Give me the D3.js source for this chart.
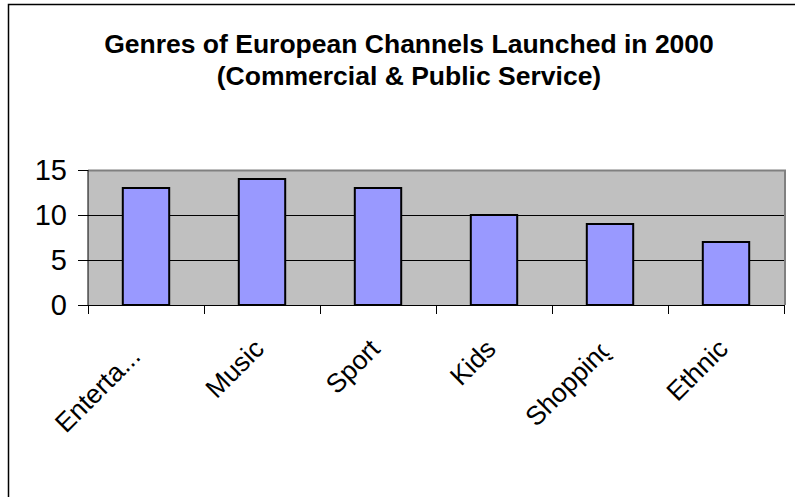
<!DOCTYPE html>
<html>
<head>
<meta charset="utf-8">
<script src="https://cdn.jsdelivr.net/npm/d3@7"></script>
<style>
  html, body { margin: 0; padding: 0; background: #fff; }
  svg { display: block; font-family: Arial, "Liberation Sans", sans-serif; }
</style>
</head>
<body>
<svg id="chart" width="795" height="497"></svg>
<script>
// Channel genres launched in 2000
const categories = ["Enterta...", "Music", "Sport", "Kids", "Shopping", "Ethnic"];
const launches = [13, 14, 13, 10, 9, 7];
const yTicks = [0, 5, 10, 15];
const titleLines = ["Genres of European Channels Launched in 2000", "(Commercial & Public Service)"];

const svg = d3.select("#chart");
const plot = { left: 88, right: 784, top: 170, bottom: 305 };

// outer frame
svg.append("rect")
  .attr("x", 8.5).attr("y", 4.5)
  .attr("width", 820).attr("height", 600)
  .attr("fill", "#fff").attr("stroke", "#000").attr("stroke-width", 1.5);

// title
svg.append("g").selectAll("text").data(titleLines).join("text")
  .attr("x", 409)
  .attr("y", (d, i) => 53 + i * 32)
  .attr("text-anchor", "middle")
  .attr("font-size", 26.5)
  .attr("font-weight", "bold")
  .text(d => d);

const x = d3.scaleBand().domain(categories).range([plot.left, plot.right]).paddingInner(0).paddingOuter(0);
const y = d3.scaleLinear().domain([0, 15]).range([plot.bottom, plot.top]);

// plot area background
svg.append("rect")
  .attr("x", plot.left).attr("y", plot.top)
  .attr("width", plot.right - plot.left).attr("height", plot.bottom - plot.top)
  .attr("fill", "#c0c0c0");

// gridlines
svg.append("g").selectAll("line").data(yTicks.filter(v => v > 0 && v < 15)).join("line")
  .attr("x1", plot.left).attr("x2", plot.right)
  .attr("y1", d => Math.round(y(d)) + 0.5).attr("y2", d => Math.round(y(d)) + 0.5)
  .attr("stroke", "#000").attr("stroke-width", 1);

// plot area border (top and right)
svg.append("path")
  .attr("d", `M${plot.left},${plot.top + 0.5}H${plot.right + 1}V${plot.bottom}`)
  .attr("fill", "none").attr("stroke", "#808080").attr("stroke-width", 2);

// bars
const barW = x.bandwidth() * 0.4;
svg.append("g").selectAll("rect").data(categories).join("rect")
  .attr("x", d => x(d) + (x.bandwidth() - barW) / 2)
  .attr("y", (d, i) => y(launches[i]))
  .attr("width", barW)
  .attr("height", (d, i) => y(0) - y(launches[i]))
  .attr("fill", "#9999ff")
  .attr("stroke", "#000").attr("stroke-width", 2);

// y axis
const yAxis = svg.append("g")
  .attr("transform", `translate(${plot.left},0)`)
  .call(d3.axisLeft(y).tickValues(yTicks).tickSize(10).tickPadding(11).tickFormat(d3.format("d")));
yAxis.selectAll("text").attr("font-size", 29).attr("fill", "#000").attr("font-family", "Arial, 'Liberation Sans', sans-serif");
yAxis.selectAll("line").attr("stroke", "#000");
yAxis.select(".domain").attr("stroke", "#000").attr("d", `M0,${plot.top}V${plot.bottom}`);

// x axis: ticks on category boundaries
const xAxisG = svg.append("g").attr("transform", `translate(0,${plot.bottom})`);
xAxisG.append("line")
  .attr("x1", plot.left).attr("x2", plot.right + 1)
  .attr("y1", 0.5).attr("y2", 0.5)
  .attr("stroke", "#000");
const boundaries = categories.map(c => x(c)).concat([plot.right]);
xAxisG.selectAll("line.tick").data(boundaries).join("line")
  .attr("class", "tick")
  .attr("x1", d => d + 0.5).attr("x2", d => d + 0.5)
  .attr("y1", 0).attr("y2", 9)
  .attr("stroke", "#000");

// label box clip: the long "Shopping" label loses the tail of its last glyph
svg.append("defs").append("clipPath").attr("id", "labelClip")
  .append("rect").attr("x", -200).attr("y", -40).attr("width", 195).attr("height", 80);

// rotated category labels
svg.append("g").selectAll("text").data(categories).join("text")
  .attr("transform", d => `translate(${x(d) + x.bandwidth() / 2 - 10},337) rotate(-45)`)
  .attr("text-anchor", "end")
  .attr("dy", "0.72em")
  .attr("font-size", 26.5)
  .attr("clip-path", d => d === "Shopping" ? "url(#labelClip)" : null)
  .attr("dx", d => d === "Shopping" ? "0.1em" : (d.endsWith("...") ? "-0.4em" : null))
  .text(d => d);
</script>
</body>
</html>
